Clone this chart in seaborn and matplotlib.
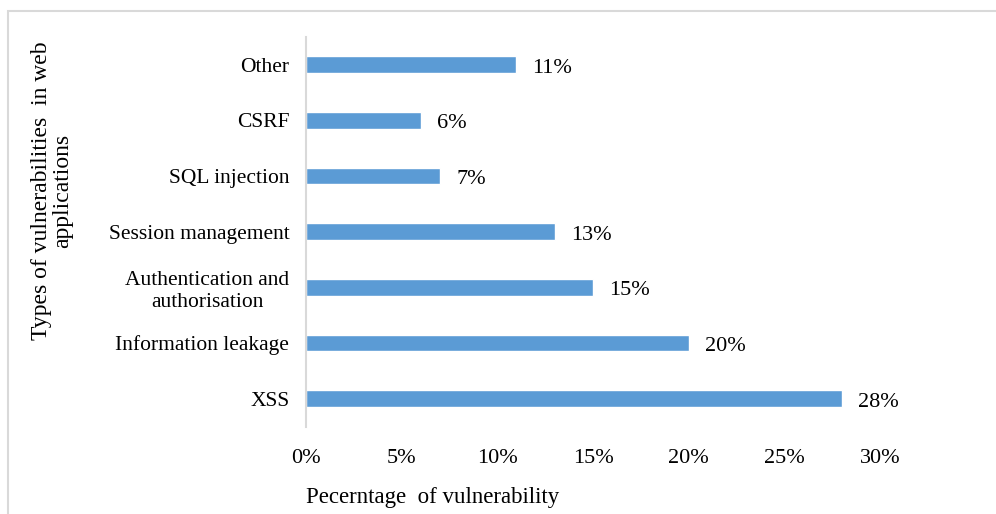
import matplotlib
matplotlib.use("Agg")
import matplotlib.pyplot as plt
import seaborn as sns
import pandas as pd
from matplotlib.patches import Rectangle
from matplotlib.ticker import FuncFormatter

categories = ["Other", "CSRF", "SQL injection", "Session management",
              "Authentication and\nauthorisation", "Information leakage", "XSS"]
percentages = [11, 6, 7, 13, 15, 20, 28]
x_ticks = [0, 5, 10, 15, 20, 25, 30]

df = pd.DataFrame({"category": categories, "pct": percentages})

sns.set_theme(style="white")
plt.rcParams["font.family"] = ["Liberation Serif", "DejaVu Serif"]

fig = plt.figure(figsize=(9.96, 5.14), dpi=100)
ax = fig.add_axes([306 / 996, 1 - 426.5 / 514, 574 / 996, 389.5 / 514])

sns.barplot(data=df, x="pct", y="category", order=categories, orient="h",
            color="#5B9BD5", saturation=1, width=0.3, ax=ax)

ax.set_xlim(0, 30)
ax.set_ylim(6.5, -0.5)
ax.set_xticks(x_ticks)
ax.xaxis.set_major_formatter(FuncFormatter(lambda v, p: f"{int(v)}%"))
ax.tick_params(axis="both", length=0, colors="black")
ax.tick_params(axis="x", pad=16, labelsize=16)
ax.tick_params(axis="y", pad=12, labelsize=15.5)
for lbl in ax.get_yticklabels():
    lbl.set_multialignment("center")
    lbl.set_linespacing(1.25)

for s in ["top", "right", "bottom"]:
    ax.spines[s].set_visible(False)
ax.spines["left"].set_color("#D9D9D9")
ax.spines["left"].set_linewidth(1.5)

for i, v in enumerate(percentages):
    ax.text(v + 0.84, i + 0.06, f"{v}%", va="center", ha="left",
            fontsize=16, color="black")

ax.set_xlabel("")
ax.set_ylabel("")
fig.text(306 / 996, 1 - 497 / 514, "Pecerntage  of vulnerability",
         ha="left", va="center", fontsize=16.5, color="black")
fig.text(52 / 996, 1 - 191 / 514, "Types of vulnerabilities  in web\napplications",
         ha="center", va="center", rotation=90, fontsize=17, color="black",
         multialignment="center", linespacing=1.0)

fig.patches.append(Rectangle((8 / 996, -0.1), 1.2, 1.1 - 11 / 514,
                             transform=fig.transFigure, fill=False,
                             edgecolor="#D9D9D9", linewidth=1.5))

fig.savefig("out.png", dpi=100, facecolor="white")
